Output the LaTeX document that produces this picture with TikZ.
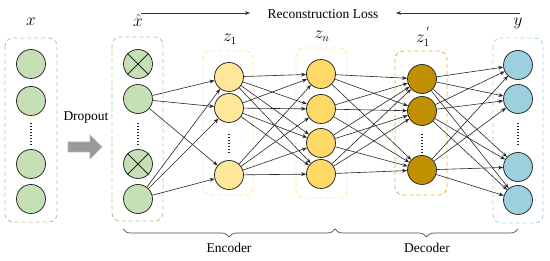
\documentclass[tikz,border=0pt]{standalone}
\usepackage{fontspec}
\setmainfont{Liberation Serif}
\usetikzlibrary{arrows.meta,decorations.pathreplacing}
\definecolor{gfill}{HTML}{C5E0B4}
\definecolor{gbox}{HTML}{A9D18E}
\definecolor{lyfill}{HTML}{FFE699}
\definecolor{lybox}{HTML}{FFE699}
\definecolor{yfill}{HTML}{FFD966}
\definecolor{dfill}{HTML}{BF9000}
\definecolor{dbox}{HTML}{D9B24A}
\definecolor{bfill}{HTML}{9DD0DE}
\definecolor{bbox}{HTML}{A3D8EA}
\begin{document}
\begin{tikzpicture}[x=1pt,y=-1pt,
  neuron/.style={circle, draw=black!85, line width=0.75pt, minimum size=29pt, inner sep=0pt},
  grp/.style={dash pattern=on 4pt off 3pt, rounded corners=8pt, line width=0.9pt},
  conn/.style={-{Stealth[length=5pt,width=3.8pt]}, line width=0.6pt, black!85},
  vdots/.style={line width=1.6pt, dash pattern=on 1.2pt off 1.8pt, black!85},
  lbl/.style={font=\fontsize{13.5}{16}\selectfont},
  mlbl/.style={font=\fontsize{16}{18}\selectfont},
  brc/.style={decorate, decoration={brace, mirror, amplitude=8pt}, line width=0.7pt, black!70}
]
\useasboundingbox (0,0) rectangle (550,261);

% group boxes
\draw[grp, gbox] (5,38) rectangle (57,222);
\draw[grp, gbox] (112,37) rectangle (163,221);
\draw[grp, lybox] (203,51) rectangle (253,195);
\draw[grp, lybox] (296,48) rectangle (347,198);
\draw[grp, dbox] (395,51) rectangle (447,195);
\draw[grp, bbox] (493,38) rectangle (543,223);

% input x
\node[neuron, fill=gfill] (x1) at (31,64) {};
\node[neuron, fill=gfill] (x2) at (31,101) {};
\node[neuron, fill=gfill] (x3) at (31,164) {};
\node[neuron, fill=gfill] (x4) at (31,199) {};
\draw[vdots, shorten <=7pt, shorten >=5pt] (x2.south) -- (x3.north);

% dropout input
\node[neuron, fill=gfill] (h1) at (138,64) {};
\node[neuron, fill=gfill] (h2) at (138,99) {};
\node[neuron, fill=gfill] (h3) at (138,164) {};
\node[neuron, fill=gfill] (h4) at (138,199) {};
\draw[line width=0.75pt, black!85] (h1.north west) -- (h1.south east) (h1.north east) -- (h1.south west);
\draw[line width=0.75pt, black!85] (h3.north west) -- (h3.south east) (h3.north east) -- (h3.south west);
\draw[vdots, shorten <=9pt, shorten >=5pt] (h2.south) -- (h3.north);

% z1
\node[neuron, fill=lyfill] (a1) at (229,77) {};
\node[neuron, fill=lyfill] (a2) at (229,108) {};
\node[neuron, fill=lyfill] (a3) at (229,175) {};
\draw[vdots, shorten <=11pt, shorten >=7pt] (a2.south) -- (a3.north);

% zn
\node[neuron, fill=yfill] (b1) at (321,74) {};
\node[neuron, fill=yfill] (b2) at (321,109) {};
\node[neuron, fill=yfill] (b3) at (321,143) {};
\node[neuron, fill=yfill] (b4) at (321,174) {};

% z1'
\node[neuron, fill=dfill] (c1) at (422,79) {};
\node[neuron, fill=dfill] (c2) at (422,111) {};
\node[neuron, fill=dfill] (c3) at (422,170) {};
\draw[vdots, shorten <=8pt, shorten >=3pt] (c2.south) -- (c3.north);

% y
\node[neuron, fill=bfill] (y1) at (518,65) {};
\node[neuron, fill=bfill] (y2) at (518,99) {};
\node[neuron, fill=bfill] (y3) at (518,167) {};
\node[neuron, fill=bfill] (y4) at (518,200) {};
\draw[vdots, shorten <=9pt, shorten >=7pt] (y2.south) -- (y3.north);

% connections
\foreach \s in {h2,h4} \foreach \t in {a1,a2,a3} \draw[conn] (\s) -- (\t);
\foreach \s in {a1,a2,a3} \foreach \t in {b1,b2,b3,b4} \draw[conn] (\s) -- (\t);
\foreach \s in {b1,b2,b3,b4} \foreach \t in {c1,c2,c3} \draw[conn] (\s) -- (\t);
\foreach \s in {c1,c2,c3} \foreach \t in {y1,y2,y3,y4} \draw[conn] (\s) -- (\t);

% labels
\node[mlbl] (lx) at (31,22) {$x$};
\node[mlbl] (lh) at (138,21) {$\hat{x}$};
\node[mlbl] (la) at (230,39) {$z_1$};
\node[mlbl] (lb) at (322,36) {$z_n$};
\node[mlbl] (lc) at (423,37) {$z_1^{\,'}$};
\node[mlbl] (ly) at (518,23) {$y$};

% dropout
\node[lbl] (dt) at (86,118) {Dropout};
\draw[fill=black!40, draw=black!28, line width=0.6pt]
  (68,142) -- (90,142) -- (90,135) -- (102,147) -- (90,159) -- (90,152) -- (68,152) -- cycle;

% reconstruction loss
\node[lbl] (rl) at (323,14) {Reconstruction Loss};
\coordinate (ra1) at (141,13);
\coordinate (ra2) at (250,13);
\coordinate (rb1) at (520,13);
\coordinate (rb2) at (396,13);
\draw[-{Stealth[length=5pt,width=3.8pt]}, line width=0.65pt, black!80] (ra1) -- (ra2);
\draw[-{Stealth[length=5pt,width=3.8pt]}, line width=0.65pt, black!80] (rb1) -- (rb2);

% braces
\coordinate (e1) at (123,229);
\coordinate (e2) at (335,229);
\coordinate (d2) at (518,229);
\draw[brc] (e1) -- (e2);
\draw[brc] (e2) -- (d2);
\node[lbl] (enc) at (229,248) {Encoder};
\node[lbl] (dec) at (427,248) {Decoder};
\end{tikzpicture}
\end{document}
